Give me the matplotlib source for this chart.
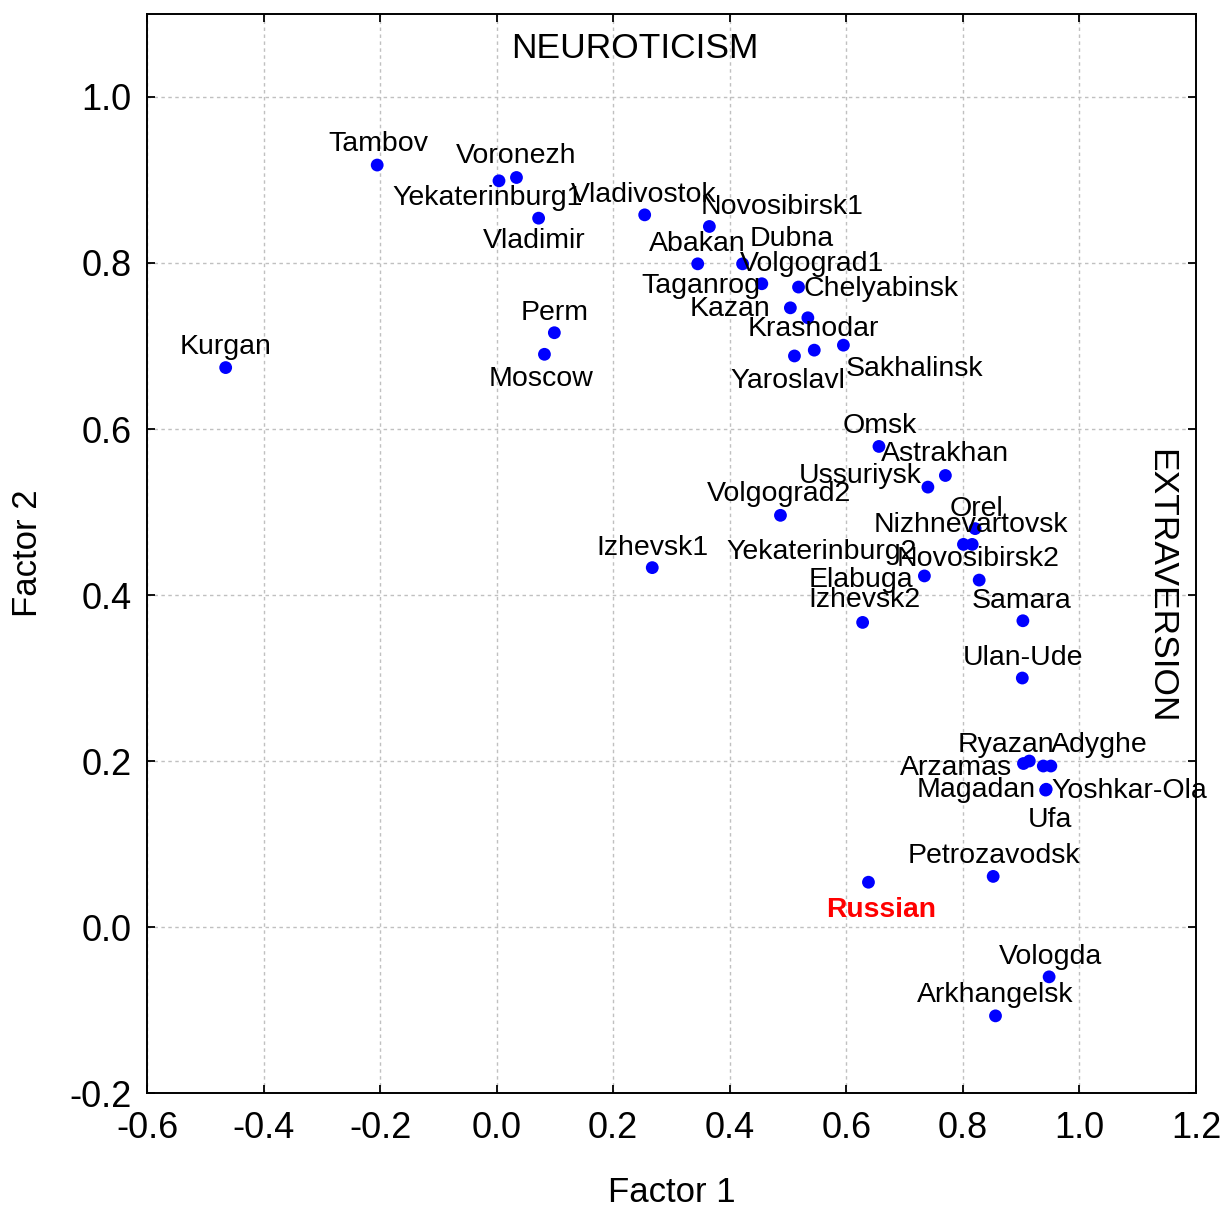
import matplotlib
matplotlib.use("Agg")
import matplotlib.pyplot as plt

plt.rcParams["font.family"] = ["Liberation Sans", "DejaVu Sans"]
plt.rcParams["axes.unicode_minus"] = False

# samples and their factor loadings
names = ["Kurgan", "Tambov", "Yekaterinburg1", "Voronezh", "Vladimir", "Perm", "Moscow",
         "Vladivostok", "Novosibirsk1", "Abakan", "Volgograd1", "Taganrog", "Dubna", "Kazan",
         "Chelyabinsk", "Krasnodar", "Yaroslavl", "Sakhalinsk", "Omsk", "Astrakhan", "Ussuriysk",
         "Volgograd2", "Orel", "Yekaterinburg2", "Nizhnevartovsk", "Elabuga", "Novosibirsk2",
         "Izhevsk2", "Samara", "Izhevsk1", "Ulan-Ude", "Arzamas", "Ryazan", "Magadan", "Adyghe",
         "Yoshkar-Ola", "Ufa", "Petrozavodsk", "Russian", "Vologda", "Arkhangelsk"]
factor1 = [-0.465, -0.205, 0.004, 0.034, 0.072, 0.099, 0.082,
           0.254, 0.365, 0.345, 0.422, 0.455, 0.518, 0.504,
           0.534, 0.545, 0.511, 0.595, 0.656, 0.770, 0.740,
           0.487, 0.821, 0.801, 0.816, 0.734, 0.828,
           0.628, 0.903, 0.267, 0.902, 0.904, 0.914, 0.938, 0.951,
           0.943, 0.942, 0.852, 0.638, 0.948, 0.856]
factor2 = [0.674, 0.918, 0.899, 0.903, 0.854, 0.716, 0.690,
           0.858, 0.844, 0.799, 0.799, 0.775, 0.771, 0.746,
           0.734, 0.695, 0.688, 0.701, 0.579, 0.544, 0.530,
           0.496, 0.480, 0.461, 0.461, 0.423, 0.418,
           0.367, 0.369, 0.433, 0.300, 0.197, 0.200, 0.194, 0.194,
           0.166, 0.165, 0.061, 0.054, -0.060, -0.107]

# label placement (pixel offsets from each point)
offsets = [(0, 23), (1, 23), (-11, -15), (0, 23), (-4, -21), (0, 22), (-3, -23),
           (-1, 22), (73, 21), (0, 22), (69, 2), (-61, 0), (-7, 50), (-60, 1),
           (73, 31), (-1, 23), (-7, -23), (71, -22), (1, 22), (0, 23), (-68, 13),
           (-1, 23), (1, 22), (-142, -6), (-1, 21), (-63, -2), (-1, 23),
           (2, 24), (-1, 22), (0, 22), (1, 22), (-67, -2), (-23, 18), (-67, -22), (48, 23),
           (83, 0), (4, -28), (1, 22), (13, -26), (1, 22), (0, 23)]

fig = plt.figure(figsize=(12.23, 12.05), dpi=100)
ax = fig.add_axes([0.1202, 0.0929, 0.8577, 0.8955])

ax.scatter(factor1, factor2, s=85, color="#0000ff", edgecolors="none", zorder=3)

for name, x, y, off in zip(names, factor1, factor2, offsets):
    pos = (off[0], off[1] - 2)
    if name == "Russian":
        ax.annotate(name, (x, y), xytext=pos, textcoords="offset pixels", ha="center",
                    va="center", fontsize=20.3, color="#ff0000", fontweight="bold", zorder=4)
    else:
        ax.annotate(name, (x, y), xytext=pos, textcoords="offset pixels", ha="center",
                    va="center", fontsize=20.5, color="black", zorder=4)

ax.text(0.237, 1.058, "NEUROTICISM", fontsize=25.5, ha="center", va="center")
ax.text(1.140, 0.410, "EXTRAVERSION", fontsize=25.5, ha="center", va="center", rotation=270)

ax.set_xlim(-0.6, 1.2)
ax.set_ylim(-0.2, 1.1)
ax.set_xticks([-0.6, -0.4, -0.2, 0.0, 0.2, 0.4, 0.6, 0.8, 1.0, 1.2])
ax.set_yticks([-0.2, 0.0, 0.2, 0.4, 0.6, 0.8, 1.0])
ax.xaxis.set_major_formatter(matplotlib.ticker.FormatStrFormatter("%.1f"))
ax.yaxis.set_major_formatter(matplotlib.ticker.FormatStrFormatter("%.1f"))

ax.grid(True, color="#c0c0c0", linestyle=(0, (2.5, 2.5)), linewidth=1.0)
ax.set_axisbelow(True)
ax.tick_params(direction="in", length=6, width=1.3, top=True, right=True,
               labelsize=26)
ax.tick_params(axis="x", pad=13)
ax.tick_params(axis="y", pad=11)
for sp in ax.spines.values():
    sp.set_linewidth(1.4)

ax.set_xlabel("Factor 1", fontsize=25, va="center")
ax.set_ylabel("Factor 2", fontsize=25, va="center")
ax.xaxis.set_label_coords(0.5, -0.0917)
ax.yaxis.set_label_coords(-0.114, 0.5)

fig.savefig("out.png", dpi=100)
